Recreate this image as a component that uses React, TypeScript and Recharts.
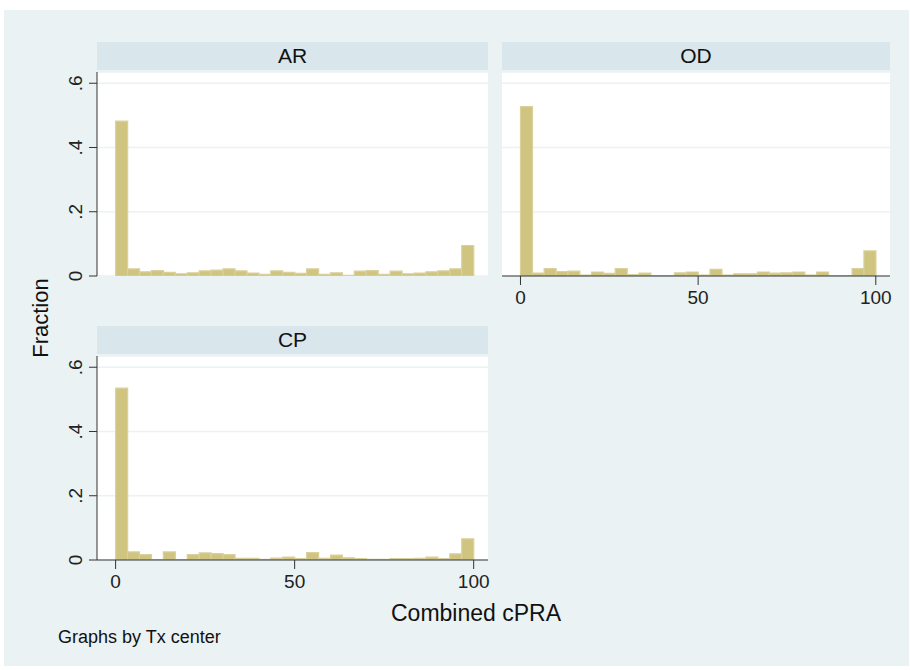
import { BarChart, Bar, XAxis, YAxis, CartesianGrid } from 'recharts';

// bin centres of the 30 histogram bins (width 100/30) on Combined cPRA
const binMids = [
  1.67, 5, 8.33, 11.67, 15, 18.33, 21.67, 25, 28.33, 31.67, 35, 38.33, 41.67, 45, 48.33,
  51.67, 55, 58.33, 61.67, 65, 68.33, 71.67, 75, 78.33, 81.67, 85, 88.33, 91.67, 95, 98.33,
];

const arFraction = [
  0.482, 0.022, 0.013, 0.017, 0.011, 0.007, 0.01, 0.016, 0.018, 0.022, 0.016, 0.009, 0.005, 0.016, 0.011,
  0.008, 0.022, 0.005, 0.01, 0.002, 0.015, 0.017, 0.005, 0.015, 0.007, 0.009, 0.013, 0.016, 0.022, 0.095,
];
const odFraction = [
  0.527, 0.009, 0.023, 0.014, 0.015, 0.003, 0.0125, 0.008, 0.023, 0.004, 0.009, 0.001, 0.001, 0.01, 0.0125,
  0.003, 0.021, 0.003, 0.007, 0.007, 0.0125, 0.009, 0.01, 0.0125, 0.003, 0.0125, 0.001, 0.001, 0.023, 0.078,
];
const cpFraction = [
  0.535, 0.025, 0.017, 0.001, 0.025, 0.001, 0.017, 0.022, 0.02, 0.017, 0.005, 0.005, 0.002, 0.006, 0.009,
  0.004, 0.023, 0.005, 0.015, 0.007, 0.004, 0.002, 0.002, 0.004, 0.004, 0.005, 0.009, 0.004, 0.019, 0.066,
];

const yTicks = [0, 0.2, 0.4, 0.6];
const xTicks = [0, 50, 100];

const FONT = '"Liberation Sans", Arial, sans-serif';
const BG = '#eaf2f3';
const STRIP = '#d9e6eb';
const AXIS = '#333333';

const toRows = (vals: number[]) => binMids.map((mid, i) => ({ mid, frac: vals[i] }));

const fmtY = (v: number) => (v === 0 ? '0' : String(v).replace(/^0/, ''));

function RotTick(props: any) {
  const { x, y, payload } = props;
  return (
    <text
      x={x}
      y={y}
      transform={`rotate(-90 ${x} ${y})`}
      textAnchor="middle"
      fontSize={19}
      fontFamily={FONT}
      fill="#222"
    >
      {fmtY(payload.value)}
    </text>
  );
}

interface PanelProps {
  vals: number[];
  width: number;
  height: number;
  margin: { top: number; right: number; left: number; bottom: number };
  showY: boolean;
  showX: boolean;
}

function Panel({ vals, width, height, margin, showY, showX }: PanelProps) {
  return (
    <BarChart
      width={width}
      height={height}
      data={toRows(vals)}
      margin={margin}
      barCategoryGap={0}
      barGap={0}
    >
      <CartesianGrid horizontal vertical={false} stroke={BG} strokeWidth={1.5} fill="#ffffff" fillOpacity={1} />
      <XAxis
        dataKey="mid"
        type="number"
        domain={[-5.2, 104]}
        ticks={xTicks}
        hide={!showX}
        height={showX ? 50 : 0}
        tickSize={9}
        tickMargin={6}
        stroke={AXIS}
        tick={{ fontSize: 19, fontFamily: FONT, fill: '#222' }}
        allowDataOverflow
      />
      <YAxis
        type="number"
        domain={[0, 0.635]}
        ticks={yTicks}
        hide={!showY}
        width={40}
        tickSize={8}
        tickMargin={7}
        stroke={AXIS}
        tick={<RotTick />}
        allowDataOverflow
      />
      <Bar dataKey="frac" fill="#cfc480" stroke="#d9d09c" strokeWidth={1.2} isAnimationActive={false} />
    </BarChart>
  );
}

const stripStyle = (left: number, top: number, width: number): React.CSSProperties => ({
  position: 'absolute',
  left,
  top,
  width,
  height: 28,
  background: STRIP,
  fontFamily: FONT,
  fontSize: 21,
  color: '#111',
  display: 'flex',
  alignItems: 'center',
  justifyContent: 'center',
});

export default function App() {
  return (
    <div style={{ position: 'absolute', left: 0, top: 0, width: 910, height: 670, background: '#fff', overflow: 'hidden' }}>
      <div style={{ position: 'absolute', left: 4, top: 10, width: 905, height: 656, background: BG }} />

      <div style={stripStyle(97, 42, 391)}>AR</div>
      <div style={stripStyle(502, 42, 388)}>OD</div>
      <div style={stripStyle(97, 326, 391)}>CP</div>

      <div style={{ position: 'absolute', left: 0, top: 0 }}>
        <Panel
          vals={arFraction}
          width={490}
          height={300}
          margin={{ top: 72, right: 2, left: 57, bottom: 24 }}
          showY
          showX={false}
        />
      </div>
      <div style={{ position: 'absolute', left: 490, top: 0 }}>
        <Panel
          vals={odFraction}
          width={420}
          height={326}
          margin={{ top: 72, right: 20, left: 12, bottom: 0 }}
          showY={false}
          showX
        />
      </div>
      <div style={{ position: 'absolute', left: 0, top: 290 }}>
        <Panel
          vals={cpFraction}
          width={490}
          height={320}
          margin={{ top: 66, right: 2, left: 57, bottom: 0 }}
          showY
          showX
        />
      </div>

      <svg width={910} height={670} style={{ position: 'absolute', left: 0, top: 0, pointerEvents: 'none' }}>
        <text
          x={48}
          y={318}
          transform="rotate(-90 48 318)"
          textAnchor="middle"
          fontSize={22}
          fontFamily={FONT}
          fill="#111"
        >
          Fraction
        </text>
        <text x={476} y={621} textAnchor="middle" fontSize={23} fontFamily={FONT} fill="#111">
          Combined cPRA
        </text>
        <text x={58} y={643} fontSize={18} fontFamily={FONT} fill="#111">
          Graphs by Tx center
        </text>
      </svg>
    </div>
  );
}
